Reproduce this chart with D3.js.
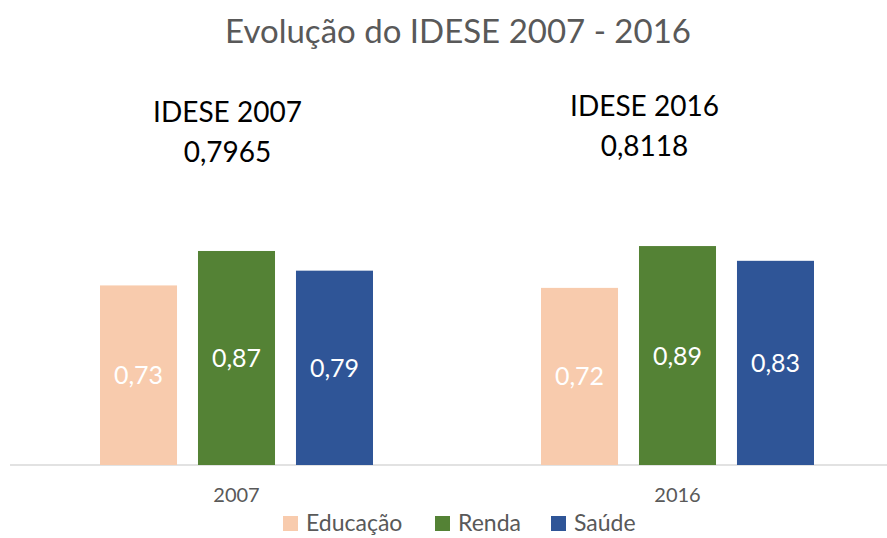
<!DOCTYPE html>
<html lang="pt">
<head>
	<meta charset="UTF-8">
	<title>Evolução do IDESE</title>
	<style>
		body { margin: 0; background: #fff; }
		text { font-family: Lato, "Open Sans", sans-serif; }
	</style>
	<script src="https://d3js.org/d3.v7.min.js"></script>
</head>
<body>
	<script type="text/javascript">
		const width = 887
		const height = 538

//data
		const years = ["2007", "2016"]
		const series = ["Educação", "Renda", "Saúde"]
		const educacao = [0.73, 0.72]
		const renda = [0.87, 0.89]
		const saude = [0.79, 0.83]
		const idese = ["0,7965", "0,8118"]
		const colors = ["#f8cbad", "#548235", "#2f5597"]

		const values = [educacao, renda, saude]
		const rows = []
		years.forEach(function(y, i) {
			series.forEach(function(s, j) {
				rows.push({ year: y, serie: s, value: values[j][i] })
			})
		})

		const svg = d3.select("body").append("svg")
			.attr("width", width)
			.attr("height", height)

//scales
		const x0 = d3.scaleBand().domain(years).range([16, 898]).padding(0)
		const groupW = 273
		const x1 = d3.scaleBand().domain(series).range([0, groupW]).paddingInner(0.214).paddingOuter(0)
		const y = d3.scaleLinear().domain([0, 1]).range([465, 219])
		const color = d3.scaleOrdinal().domain(series).range(colors)
		const fmt = function(v) { return d3.format(".2f")(v).replace(".", ",") }

//title
		svg.append("text")
			.attr("x", 458)
			.attr("y", 43)
			.attr("text-anchor", "middle")
			.style("font-size", "33px")
			.style("fill", "#595959")
			.text("Evolução do IDESE 2007 - 2016")

//baseline
		svg.append("line")
			.attr("x1", 10).attr("x2", width)
			.attr("y1", y(0)).attr("y2", y(0))
			.style("stroke", "#d9d9d9")
			.style("stroke-width", 1.5)

//bars
		const groupX = function(d) { return x0(d.year) + x0.bandwidth() / 2 - groupW / 2 + x1(d.serie) }
		svg.selectAll(".bar")
			.data(rows)
			.join("rect")
			.attr("class", "bar")
			.attr("x", groupX)
			.attr("y", function(d) { return y(d.value) })
			.attr("width", x1.bandwidth())
			.attr("height", function(d) { return y(0) - y(d.value) })
			.style("fill", function(d) { return color(d.serie) })

//value labels
		svg.selectAll(".val")
			.data(rows)
			.join("text")
			.attr("class", "val")
			.attr("x", function(d) { return groupX(d) + x1.bandwidth() / 2 })
			.attr("y", function(d) { return (y(0) + y(d.value)) / 2 })
			.attr("dy", "0.36em")
			.attr("text-anchor", "middle")
			.style("font-size", "25px")
			.style("fill", "white")
			.text(function(d) { return fmt(d.value) })

//category labels
		svg.selectAll(".cat")
			.data(years)
			.join("text")
			.attr("class", "cat")
			.attr("x", function(d) { return x0(d) + x0.bandwidth() / 2 })
			.attr("y", 502)
			.attr("text-anchor", "middle")
			.style("font-size", "20px")
			.style("fill", "#595959")
			.text(function(d) { return d })

//IDESE annotations
		const annX = function(d) { return x0(d) + x0.bandwidth() / 2 - 9 - (d === "2016" ? 24 : 0) }
		const ann = svg.selectAll(".ann")
			.data(years)
			.join("text")
			.attr("class", "ann")
			.attr("text-anchor", "middle")
			.style("font-size", "28px")
			.style("fill", "#000")
		ann.append("tspan")
			.attr("x", annX)
			.attr("y", function(d) { return d === "2007" ? 122 : 116 })
			.text(function(d) { return "IDESE " + d })
		ann.append("tspan")
			.attr("x", annX)
			.attr("dy", 40)
			.text(function(d, i) { return idese[i] })

//legend
		const legX = [283, 435, 551]
		const leg = svg.selectAll(".leg")
			.data(series)
			.join("g")
			.attr("class", "leg")
			.attr("transform", function(d, i) { return "translate(" + legX[i] + ",516)" })
		leg.append("rect")
			.attr("width", 15).attr("height", 15)
			.style("fill", function(d) { return color(d) })
		leg.append("text")
			.attr("x", 23)
			.attr("y", 15)
			.style("font-size", "23px")
			.style("fill", "#595959")
			.text(function(d) { return d })
	</script>
</body>
</html>
